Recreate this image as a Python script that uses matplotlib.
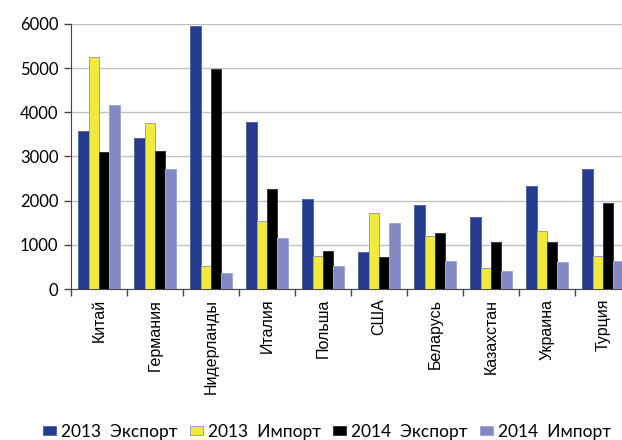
import matplotlib
matplotlib.use("Agg")
import matplotlib.pyplot as plt
import numpy as np

categories = ["Китай", "Германия", "Нидерланды", "Италия", "Польша",
              "США", "Беларусь", "Казахстан", "Украина", "Турция"]
series_names = ["2013  Экспорт", "2013  Импорт", "2014  Экспорт", "2014  Импорт"]
export_2013 = [3580, 3430, 5950, 3770, 2040, 830, 1900, 1620, 2340, 2720]
import_2013 = [5260, 3750, 530, 1550, 740, 1730, 1190, 480, 1320, 740]
export_2014 = [3100, 3130, 4980, 2270, 870, 720, 1260, 1060, 1060, 1950]
import_2014 = [4160, 2720, 370, 1150, 510, 1500, 640, 400, 610, 630]
yticks = [0, 1000, 2000, 3000, 4000, 5000, 6000]

colors = ["#253B8F", "#F2EA3A", "#000000", "#8288C2"]
edges = ["#5566AA", "#9A9CCB", "#333333", "#A0A5D4"]

fig = plt.figure(figsize=(6.22, 4.40), dpi=100)
ax = fig.add_axes([71/622, 151/440, 560/622, 265/440])

x = np.arange(len(categories))
w = 0.185
data = [export_2013, import_2013, export_2014, import_2014]
for i, (vals, c, ec, name) in enumerate(zip(data, colors, edges, series_names)):
    ax.bar(x + (i - 1.5) * w, vals, width=w, color=c, edgecolor=ec,
           linewidth=0.7, label=name, zorder=3)

ax.set_xlim(-0.5, len(categories) - 0.5)
ax.set_ylim(0, 6000)
ax.set_yticks(yticks)
ax.set_yticklabels([str(t) for t in yticks], fontfamily="Lato", fontsize=12)
ax.yaxis.grid(True, color="#C0C0C0", linewidth=1.0, zorder=0)
ax.set_axisbelow(True)

ax.set_xticks(x)
ax.set_xticklabels(categories, rotation=90, fontfamily="Liberation Sans", fontsize=11.5)
ax.set_xticks(np.arange(len(categories) + 1) - 0.5, minor=True)
ax.tick_params(axis="x", which="major", length=0, pad=7)
ax.tick_params(axis="x", which="minor", length=5, width=1, color="#444444", direction="out")
ax.tick_params(axis="y", length=5, width=1, color="#444444", direction="out", pad=4)

for s in ["top", "right"]:
    ax.spines[s].set_visible(False)
ax.spines["left"].set_color("#444444")
ax.spines["bottom"].set_color("#444444")

leg = fig.legend(loc="center", bbox_to_anchor=(327/622, 8/440), ncol=4, frameon=False,
                 prop={"family": "Lato", "size": 12.5}, handlelength=0.75, handleheight=0.45,
                 handletextpad=0.3, columnspacing=0.7, borderaxespad=0)

fig.savefig("out.png", dpi=100)
